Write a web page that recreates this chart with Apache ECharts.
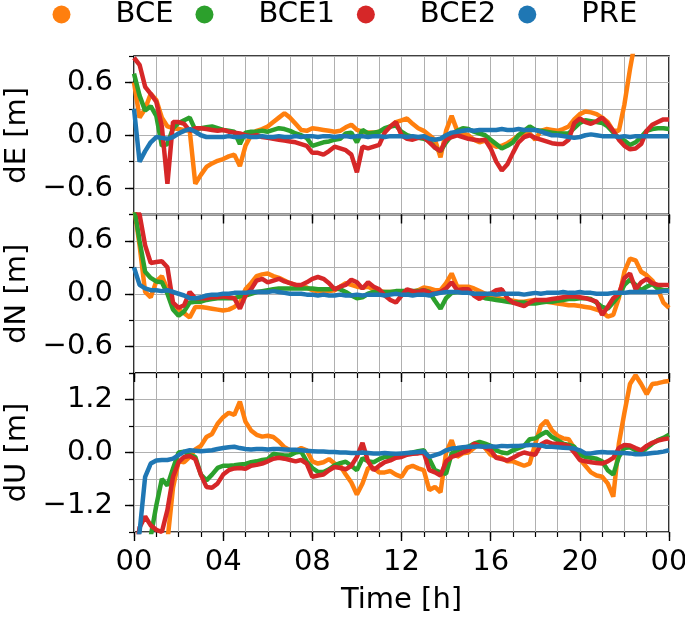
<!DOCTYPE html>
<html><head><meta charset="utf-8">
<script src="https://cdn.jsdelivr.net/npm/echarts@6/dist/echarts.min.js"></script>
<style>html,body{margin:0;padding:0;background:#fff}#c{width:685px;height:620px}</style>
</head><body><div id="c"></div><script>
const hours = [0,0.25,0.5,0.75,1,1.25,1.5,1.75,2,2.25,2.5,2.75,3,3.25,3.5,3.75,4,4.25,4.5,4.75,5,5.25,5.5,5.75,6,6.25,6.5,6.75,7,7.25,7.5,7.75,8,8.25,8.5,8.75,9,9.25,9.5,9.75,10,10.25,10.5,10.75,11,11.25,11.5,11.75,12,12.25,12.5,12.75,13,13.25,13.5,13.75,14,14.25,14.5,14.75,15,15.25,15.5,15.75,16,16.25,16.5,16.75,17,17.25,17.5,17.75,18,18.25,18.5,18.75,19,19.25,19.5,19.75,20,20.25,20.5,20.75,21,21.25,21.5,21.75,22,22.25,22.5,22.75,23,23.25,23.5,23.75,24];
const seriesNames = ['BCE','BCE1','BCE2','PRE'];
const panelNames = ['dE [m]','dN [m]','dU [m]'];
const xTickValues = [0,4,8,12,16,20,24];
const xTickLabels = ['00','04','08','12','16','20','00'];
const yTickValues = [[-0.6,0,0.6],[-0.6,0,0.6],[-1.2,0,1.2]];

// dE
const dE_BCE = [0.60,0.20,0.30,0.47, 0.40,0.20,0.10,0.08, 0.07,0.06,0.05,-0.55, -0.45,-0.36,-0.32,-0.29, -0.27,-0.24,-0.22,-0.35, -0.12,0.00,0.05,0.07, 0.10,0.15,0.20,0.25, 0.20,0.13,0.06,0.05, 0.08,0.07,0.06,0.05, 0.04,0.05,0.09,0.12, 0.06,0.04,0.03,0.03, 0.04,0.06,0.10,0.15, 0.17,0.19,0.13,0.08, 0.05,0.00,-0.05,-0.25, 0.05,0.22,0.05,0.02, 0.00,-0.05,-0.08,-0.06, -0.10,-0.13,-0.12,-0.09, -0.05,0.00,0.01,0.02, -0.05,0.05,0.07,0.06, 0.05,0.07,0.10,0.18, 0.24,0.27,0.26,0.24, 0.20,0.15,0.05,0.05, 0.35,0.75,1.10,1.40, 1.60,1.70,1.75,1.80, 1.80];
const dE_BCE1 = [0.70,0.45,0.28,0.33, 0.22,-0.12,-0.10,0.08, 0.14,0.17,0.20,0.06, 0.08,0.09,0.10,0.08, 0.06,0.05,0.04,-0.10, 0.03,0.04,0.04,0.05, 0.04,0.06,0.08,0.07, 0.05,0.02,0.00,-0.03, -0.12,-0.10,-0.08,-0.07, -0.05,-0.04,0.02,0.03, -0.08,0.06,0.02,0.03, 0.04,0.08,0.10,0.11, 0.04,0.00,-0.02,-0.03, -0.04,-0.06,-0.14,-0.18, -0.08,0.00,0.05,0.08, 0.07,0.04,0.02,0.00, -0.05,-0.10,-0.15,-0.12, -0.08,0.00,0.05,0.10, 0.06,0.05,0.04,0.03, 0.02,0.02,0.02,0.08, 0.14,0.17,0.16,0.15, 0.14,0.10,0.03,-0.03, -0.06,-0.11,-0.08,-0.02, 0.05,0.07,0.08,0.08, 0.07];
const dE_BCE2 = [0.88,0.80,0.55,0.47, 0.38,0.10,-0.55,0.15, 0.15,0.13,0.05,0.08, 0.08,0.07,0.06,0.05, 0.06,0.04,0.03,0.02, 0.00,-0.01,0.00,-0.02, -0.03,-0.04,-0.05,-0.06, -0.07,-0.08,-0.10,-0.12, -0.20,-0.20,-0.22,-0.18, -0.13,-0.15,-0.17,-0.22, -0.42,-0.13,-0.15,-0.13, -0.11,0.03,0.10,0.15, 0.00,-0.04,-0.05,-0.03, -0.02,-0.08,-0.14,-0.18, -0.05,-0.02,0.00,-0.02, -0.04,-0.05,-0.06,-0.05, -0.15,-0.30,-0.40,-0.33, -0.20,-0.08,-0.02,0.00, -0.03,-0.05,-0.07,-0.09, -0.10,-0.10,-0.05,0.14, 0.19,0.15,0.13,0.16, 0.20,0.13,0.05,-0.05, -0.12,-0.16,-0.15,-0.10, 0.05,0.12,0.15,0.18, 0.18];
const dE_PRE = [0.30,-0.30,-0.18,-0.08, -0.02,-0.03,-0.04,-0.02, 0.02,0.05,0.07,0.04, 0.00,-0.02,-0.02,-0.02, -0.02,-0.01,-0.02,-0.02, -0.01,-0.02,-0.02,-0.01, -0.02,-0.02,-0.01,-0.02, -0.02,-0.01,-0.02,-0.01, -0.01,-0.02,-0.01,-0.01, -0.02,-0.01,-0.01,-0.02, -0.01,-0.01,-0.02,-0.01, -0.01,-0.02,-0.01,-0.01, -0.01,-0.02,-0.01,-0.02, -0.01,-0.04,-0.05,-0.04, 0.00,0.03,0.04,0.05, 0.06,0.05,0.06,0.06, 0.06,0.06,0.07,0.06, 0.06,0.07,0.06,0.06, 0.06,0.04,0.02,0.00, 0.00,-0.01,-0.02,-0.03, -0.02,0.00,0.01,0.00, -0.01,-0.01,-0.01,-0.02, -0.01,-0.02,-0.01,-0.01, -0.01,-0.01,-0.01,-0.01, -0.01];
// dN
const dN_BCE = [1.00,0.55,0.02,-0.04, 0.14,0.20,0.05,-0.12, -0.18,-0.22,-0.27,-0.15, -0.15,-0.16,-0.17,-0.18, -0.19,-0.18,-0.15,-0.10, 0.05,0.12,0.20,0.22, 0.23,0.20,0.18,0.15, 0.12,0.10,0.08,0.07, 0.04,0.03,0.02,0.03, 0.04,0.08,0.12,0.10, 0.08,0.07,0.08,0.05, 0.03,0.02,0.02,0.02, 0.02,0.02,0.02,0.04, 0.07,0.06,0.04,0.04, 0.12,0.23,0.08,0.08, 0.08,0.06,0.03,0.00, -0.02,-0.04,-0.06,-0.07, -0.08,-0.09,-0.09,-0.08, -0.07,-0.08,-0.09,-0.10, -0.11,-0.12,-0.13,-0.13, -0.14,-0.15,-0.16,-0.18, -0.20,-0.26,-0.24,-0.05, 0.25,0.40,0.38,0.25, 0.21,0.15,0.05,-0.10, -0.16];
const dN_BCE1 = [1.00,0.60,0.25,0.18, 0.14,0.13,0.00,-0.18, -0.25,-0.20,-0.10,-0.09, -0.09,-0.07,-0.06,-0.05, -0.05,-0.05,-0.05,-0.03, -0.02,0.00,0.02,0.03, 0.04,0.05,0.06,0.06, 0.06,0.06,0.06,0.06, 0.06,0.05,0.05,0.05, 0.06,0.05,0.02,-0.02, -0.05,-0.04,0.00,0.02, 0.02,0.02,0.02,0.03, 0.03,0.03,0.03,0.03, 0.04,0.02,-0.08,-0.17, -0.05,0.01,0.02,0.02, 0.02,0.00,-0.03,-0.05, -0.06,-0.07,-0.08,-0.09, -0.10,-0.10,-0.10,-0.11, -0.11,-0.10,-0.09,-0.09, -0.08,-0.07,-0.06,-0.06, -0.05,-0.05,-0.06,-0.10, -0.15,-0.17,-0.10,-0.02, 0.10,0.16,0.10,0.04, 0.08,0.11,0.06,0.04, 0.04];
const dN_BCE2 = [1.00,0.90,0.55,0.35, 0.36,0.37,0.30,-0.10, -0.16,-0.13,0.02,-0.05, -0.05,-0.05,-0.04,-0.04, -0.03,-0.04,-0.05,-0.17, -0.02,0.05,0.15,0.17, 0.13,0.15,0.17,0.14, 0.12,0.10,0.10,0.13, 0.17,0.19,0.17,0.12, 0.05,0.08,0.10,0.16, 0.13,0.06,0.13,0.08, 0.05,-0.02,-0.07,-0.10, -0.02,0.05,0.03,0.02, 0.04,0.01,0.00,0.02, 0.06,0.13,0.04,0.05, 0.05,-0.02,-0.06,-0.01, 0.00,0.04,0.05,-0.05, -0.10,-0.12,-0.14,-0.10, -0.07,-0.07,-0.07,-0.06, -0.05,-0.04,-0.03,-0.03, -0.04,-0.05,-0.07,-0.09, -0.24,-0.15,-0.05,0.00, 0.18,0.23,0.05,0.13, 0.17,0.12,0.10,0.10, 0.10];
const dN_PRE = [0.30,0.10,0.06,0.04, 0.04,0.03,0.04,0.02, 0.00,-0.02,-0.05,-0.05, -0.04,-0.02,-0.01,-0.01, 0.00,0.00,0.01,0.01, 0.01,0.02,0.02,0.02, 0.02,0.03,0.02,0.01, 0.00,0.00,0.00,-0.01, -0.01,-0.02,-0.01,-0.02, -0.02,-0.01,-0.02,-0.02, -0.01,-0.02,-0.01,-0.01, -0.01,-0.02,-0.01,0.00, -0.01,-0.01,-0.02,-0.01, -0.01,-0.02,0.00,0.01, 0.02,0.02,0.02,0.01, 0.01,0.00,0.00,0.00, 0.00,-0.01,0.00,0.00, 0.00,0.00,-0.01,0.00, 0.01,0.00,0.01,0.01, 0.01,0.02,0.01,0.01, 0.02,0.01,0.01,0.00, 0.00,0.00,0.01,0.01, 0.01,0.02,0.02,0.02, 0.02,0.02,0.02,0.03, 0.03];
// dU
const dU_BCE = [-2.50,-2.50,-2.50,-2.50, -2.50,-2.50,-2.00,-0.80, -0.20,-0.22,-0.10,0.07, 0.15,0.35,0.42,0.65, 0.80,0.90,0.85,1.15, 0.70,0.50,0.40,0.36, 0.38,0.35,0.25,0.12, 0.05,0.03,0.10,0.05, -0.20,-0.25,-0.22,-0.15, -0.25,-0.30,-0.50,-0.68, -0.95,-0.70,-0.35,-0.35, -0.45,-0.45,-0.42,-0.50, -0.55,-0.35,-0.30,-0.36, -0.40,-0.85,-0.78,-0.90, 0.00,0.28,-0.10,-0.02, 0.00,0.10,0.20,0.10, -0.05,-0.10,-0.12,-0.20, -0.20,-0.25,-0.30,-0.25, 0.20,0.60,0.72,0.50, 0.38,0.32,0.30,0.10, -0.15,-0.30,-0.45,-0.52, -0.55,-0.70,-1.00,0.20, 0.90,1.55,1.75,1.55, 1.32,1.55,1.57,1.60, 1.62];
const dU_BCE1 = [-2.50,-2.50,-2.30,-1.90, -1.20,-0.60,-0.75,-0.36, 0.00,0.02,-0.06,-0.10, -0.50,-0.63,-0.50,-0.35, -0.30,-0.30,-0.29,-0.27, -0.26,-0.22,-0.20,-0.17, -0.15,-0.03,-0.05,-0.07, -0.06,0.00,0.02,-0.20, -0.35,-0.44,-0.44,-0.38, -0.29,-0.24,-0.21,-0.30, -0.40,-0.13,-0.20,-0.22, -0.15,-0.10,-0.10,-0.10, -0.06,-0.02,0.00,0.03, 0.05,-0.15,-0.40,-0.45, -0.48,-0.02,0.05,0.10, 0.13,0.20,0.24,0.20, 0.15,0.05,0.00,-0.02, 0.05,0.10,0.15,0.30, 0.32,0.40,0.47,0.35, 0.28,0.20,0.17,0.13, -0.05,-0.10,-0.12,-0.14, -0.20,-0.40,-0.50,-0.10, 0.10,0.12,0.05,0.00, 0.10,0.20,0.28,0.33, 0.40];
const dU_BCE2 = [-2.50,-1.70,-1.45,-1.65, -1.75,-1.80,-1.30,-0.55, -0.22,-0.10,-0.08,-0.15, -0.50,-0.78,-0.80,-0.70, -0.50,-0.40,-0.36,-0.35, -0.37,-0.30,-0.28,-0.25, -0.20,-0.14,-0.12,-0.14, -0.17,-0.20,-0.17,-0.25, -0.55,-0.52,-0.50,-0.40, -0.33,-0.35,-0.38,-0.30, -0.10,0.22,-0.20,-0.40, -0.30,-0.22,-0.18,-0.12, -0.10,-0.05,-0.03,-0.02, 0.00,-0.40,-0.45,-0.52, -0.20,-0.10,-0.06,0.00, 0.05,0.20,0.15,0.12, 0.05,-0.12,-0.15,-0.18, -0.12,-0.05,0.00,-0.03, -0.05,0.18,0.25,0.20, 0.20,0.18,0.15,0.00, -0.17,-0.20,-0.22,-0.24, -0.25,-0.20,-0.12,0.10, 0.17,0.16,0.10,0.05, 0.15,0.22,0.27,0.30, 0.32];
const dU_PRE = [-2.50,-1.80,-0.55,-0.25, -0.18,-0.17,-0.17,-0.14, -0.06,0.02,0.05,0.04, 0.03,0.04,0.05,0.08, 0.10,0.12,0.13,0.10, 0.08,0.07,0.08,0.08, 0.07,0.08,0.08,0.07, 0.06,0.06,0.05,0.04, 0.03,0.02,0.02,0.01, 0.01,0.00,0.00,-0.01, -0.01,0.00,-0.01,-0.02, -0.02,-0.01,-0.02,-0.03, -0.02,-0.01,0.00,0.01, 0.02,-0.10,-0.06,-0.02, 0.05,0.09,0.10,0.12, 0.13,0.13,0.14,0.13, 0.14,0.13,0.15,0.14, 0.15,0.15,0.16,0.17, 0.17,0.16,0.13,0.13, 0.12,0.11,0.10,0.09, 0.05,-0.02,-0.02,0.00, 0.01,0.00,0.00,-0.01, -0.01,-0.02,-0.04,-0.04, -0.03,-0.01,0.00,0.02, 0.05];

const panels = [
  [dE_BCE, dE_BCE1, dE_BCE2, dE_PRE],
  [dN_BCE, dN_BCE1, dN_BCE2, dN_PRE],
  [dU_BCE, dU_BCE1, dU_BCE2, dU_PRE]
];
const yRanges = [[-0.9,0.9,0.3],[-0.9,0.9,0.3],[-1.8,1.8,0.6]];
const colors = ['#ff7f0e','#2ca02c','#d62728','#1f77b4'];

const FONT = 'DejaVu Sans';
const FS = 29;
const gridBoxes = [[56,158.5],[214.5,158.5],[373,159]];
const grid = gridBoxes.map(g => ({left:134, width:535, top:g[0], height:g[1], show:true, borderColor:'#000', borderWidth:1.6, backgroundColor:'transparent', containLabel:false, outerBoundsMode:'none'}));

const fmtY = v => (v < 0 ? '\u2212' : '') + Math.abs(v).toFixed(1);
const xAxis = [], yAxis = [], series = [];
for (let i = 0; i < 3; i++) {
  xAxis.push({type:'value', gridIndex:i, position:'bottom', min:0, max:24, interval:1,
    axisLine:{show:false, onZero:false}, axisTick:{show:true, length:5, lineStyle:{color:'#000', width:1.2}},
    axisLabel:{show:false}, splitLine:{show:true, lineStyle:{color:'#b0b0b0', width:1}}});
  xAxis.push({type:'value', gridIndex:i, position:'bottom', min:0, max:24, interval:4,
    axisLine:{show:false, onZero:false}, axisTick:{show:true, length:9, lineStyle:{color:'#000', width:1.4}},
    axisLabel:{show:i===2, margin:16, fontSize:FS, fontFamily:FONT, color:'#000',
      formatter: v => xTickLabels[xTickValues.indexOf(v)]},
    splitLine:{show:false},
    name: i===2 ? 'Time [h]' : '', nameLocation:'middle', nameGap:54,
    nameTextStyle:{fontSize:FS, fontFamily:FONT, color:'#000'}});
  const r = yRanges[i];
  yAxis.push({type:'value', gridIndex:i, position:'left', min:r[0], max:r[1], interval:r[2],
    axisLine:{show:false, onZero:false}, axisTick:{show:true, length:5, lineStyle:{color:'#000', width:1.2}},
    axisLabel:{show:false}, splitLine:{show:true, lineStyle:{color:'#b0b0b0', width:1}}});
  yAxis.push({type:'value', gridIndex:i, position:'left', min:r[0], max:r[1], interval:r[2],
    axisLine:{show:false, onZero:false},
    axisTick:{show:true, length:9, customValues:yTickValues[i], lineStyle:{color:'#000', width:1.4}},
    axisLabel:{show:true, customValues:yTickValues[i], margin:21, fontSize:FS, fontFamily:FONT, color:'#000', formatter:fmtY},
    splitLine:{show:false},
    name: panelNames[i], nameLocation:'middle', nameGap:100,
    nameTextStyle:{fontSize:FS, fontFamily:FONT, color:'#000'}});
  for (let s = 0; s < 4; s++) {
    series.push({name:seriesNames[s], type:'line', xAxisIndex:2*i, yAxisIndex:2*i,
      data: hours.map((h, k) => [h, panels[i][s][k]]),
      showSymbol:false, symbol:'circle', clip:true, z:2+s,
      lineStyle:{width:4.5, color:colors[s]}, itemStyle:{color:colors[s]}});
  }
}

const chart = echarts.init(document.getElementById('c'), null, {renderer:'canvas'});
chart.setOption({
  animation:false,
  backgroundColor:'#fff',
  color: colors,
  legend:{data:seriesNames, top:0, left:52.5, padding:0, icon:'circle', itemWidth:18, itemHeight:18, itemGap:22,
    textStyle:{fontSize:FS, fontFamily:FONT, color:'#000', padding:[0,0,0,40]}},
  grid, xAxis, yAxis, series
});
</script></body></html>
